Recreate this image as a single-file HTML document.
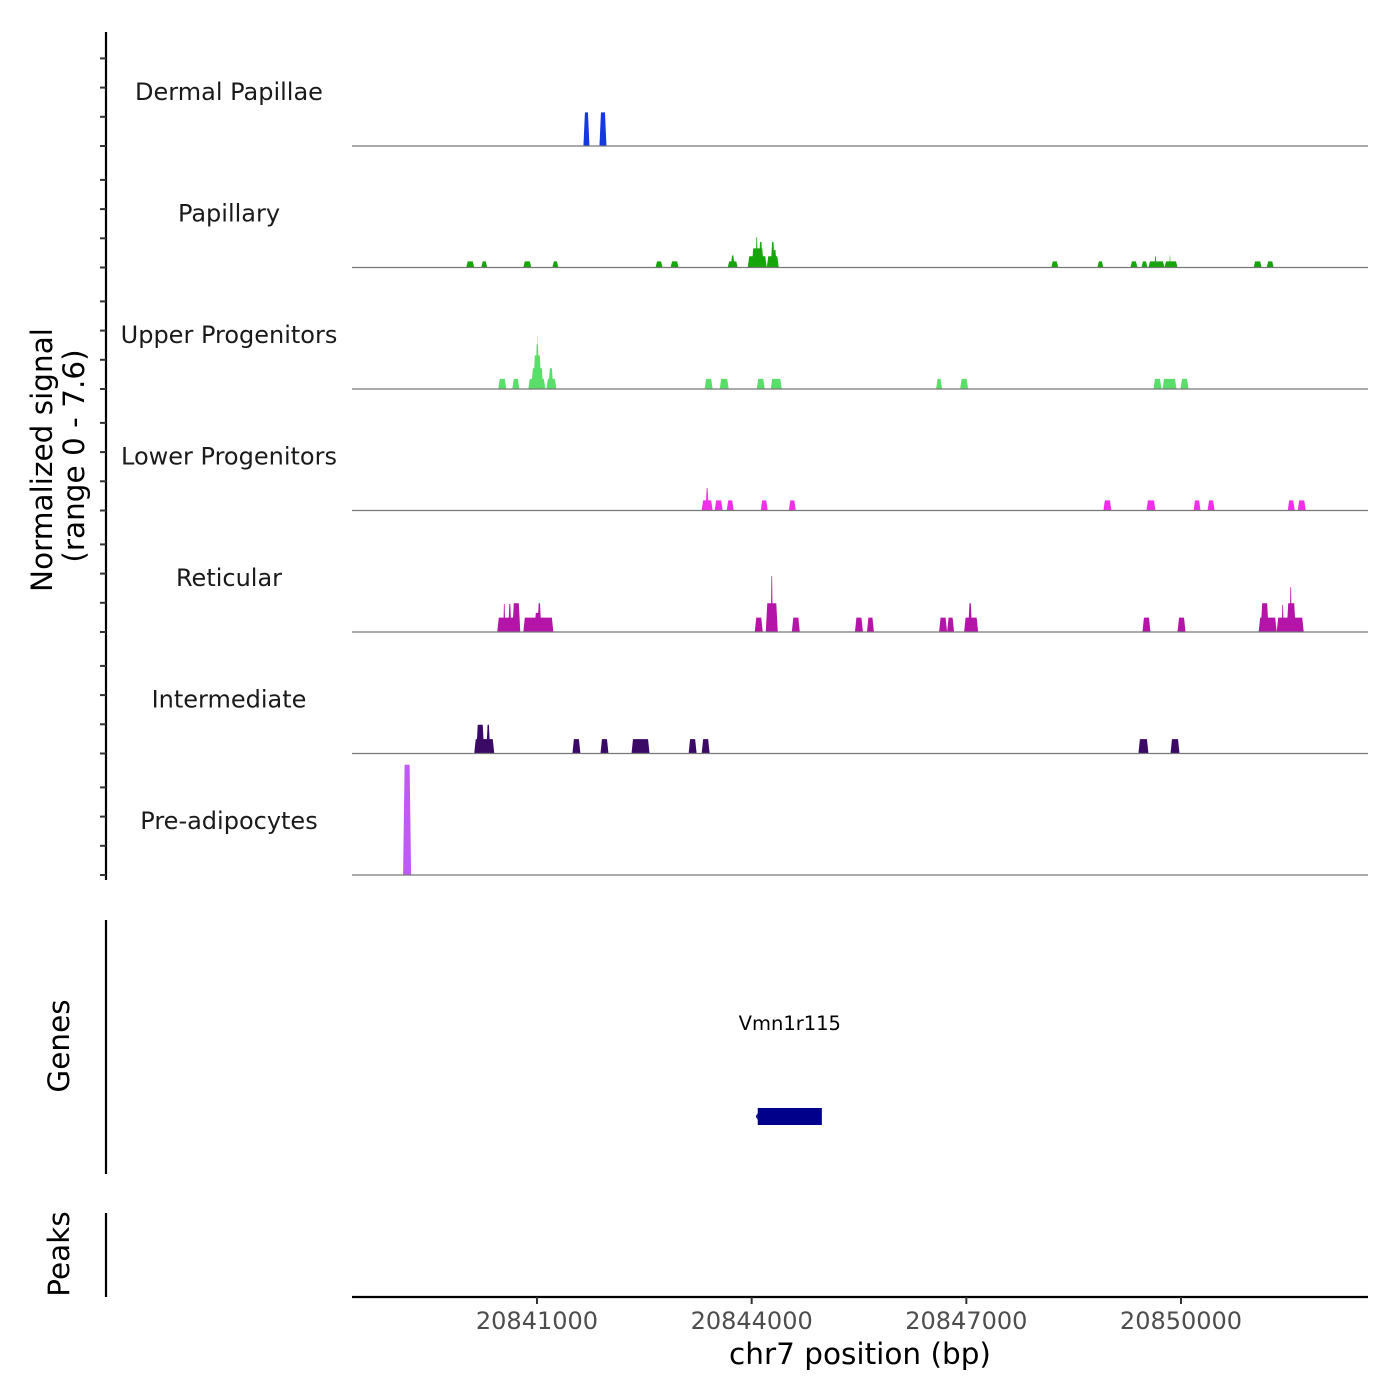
<!DOCTYPE html>
<html><head><meta charset="utf-8"><style>
html,body{margin:0;padding:0;background:#fff;}
svg{display:block;font-family:"DejaVu Sans","Liberation Sans",sans-serif;}
</style></head><body>
<svg id="chart" width="1400" height="1400" viewBox="0 0 1400 1400" xmlns="http://www.w3.org/2000/svg">
<g id="tracks"></g>
<line x1="106" y1="32" x2="106" y2="880" stroke="#000" stroke-width="2.2"/>
<g id="yticks"></g>
<text transform="translate(52,460) rotate(-90)" text-anchor="middle" font-size="29.5" fill="#000">Normalized signal</text>
<text transform="translate(84,456) rotate(-90)" text-anchor="middle" font-size="29.5" fill="#000">(range 0 - 7.6)</text>
<line x1="106" y1="920" x2="106" y2="1174" stroke="#000" stroke-width="2.2"/>
<text transform="translate(69,1046) rotate(-90)" text-anchor="middle" font-size="29.5">Genes</text>
<line x1="106" y1="1213" x2="106" y2="1297" stroke="#000" stroke-width="2.2"/>
<text transform="translate(69,1254) rotate(-90)" text-anchor="middle" font-size="29.5">Peaks</text>
<g id="genes"></g>
<line x1="352" y1="1297" x2="1368" y2="1297" stroke="#000" stroke-width="2.2"/>
<g id="xticks"></g>
<text x="860" y="1364" text-anchor="middle" font-size="29.5">chr7 position (bp)</text>
</svg>
<script>
const trackNames = ["Dermal Papillae","Papillary","Upper Progenitors","Lower Progenitors","Reticular","Intermediate","Pre-adipocytes"];
const trackColors = ["#1638e0","#17a50c","#5ade6a","#f12ee9","#b514a8","#3b0a66","#c05af5"];
const xTicks = [20841000,20844000,20847000,20850000];
const geneNames = ["Vmn1r115"];
const geneStarts = [20844085];
const geneEnds = [20844981];
// segments per track: [start bp, end bp, signal]
const dermalPapillae = [[20841649,20841733,2.1],[20841873,20841971,2.1]];
const papillary = [[20840011,20840123,0.38],[20840221,20840305,0.38],[20840809,20840921,0.38],[20841215,20841299,0.38],[20842657,20842755,0.38],[20842867,20842979,0.38],[20843665,20843805,0.38],[20843707,20843763,0.75],[20843945,20844211,0.7],[20844001,20844169,1.2],[20844057,20844085,1.9],[20844099,20844155,1.6],[20844211,20844379,0.7],[20844267,20844323,1.6],[20844295,20844351,1.1],[20848187,20848285,0.38],[20848831,20848915,0.38],[20849293,20849391,0.38],[20849447,20849531,0.38],[20849545,20849769,0.38],[20849629,20849657,0.7],[20849769,20849951,0.38],[20849839,20849853,0.75],[20851015,20851127,0.38],[20851197,20851295,0.38]];
const upperProgenitors = [[20840459,20840571,0.63],[20840655,20840753,0.63],[20840879,20841117,0.63],[20840921,20841089,1.3],[20840949,20841061,2.1],[20840977,20841033,2.8],[20840998,20841012,3.3],[20841131,20841271,0.63],[20841159,20841229,1.3],[20843343,20843455,0.63],[20843553,20843679,0.63],[20844071,20844183,0.63],[20844267,20844421,0.63],[20846577,20846661,0.63],[20846913,20847025,0.63],[20849615,20849727,0.63],[20849741,20849937,0.63],[20849993,20850105,0.63]];
const lowerProgenitors = [[20843301,20843455,0.63],[20843357,20843399,1.4],[20843483,20843595,0.63],[20843651,20843749,0.63],[20844127,20844225,0.63],[20844519,20844617,0.63],[20848915,20849027,0.63],[20849517,20849643,0.63],[20850175,20850273,0.63],[20850371,20850469,0.63],[20851491,20851589,0.63],[20851631,20851743,0.63]];
const reticular = [[20840445,20840739,0.9],[20840529,20840557,1.75],[20840599,20840641,1.75],[20840655,20840767,1.8],[20840809,20841229,0.9],[20840963,20841061,1.2],[20841005,20841061,1.8],[20844043,20844155,0.9],[20844197,20844365,1.8],[20844267,20844295,3.5],[20844561,20844673,0.9],[20845443,20845555,0.9],[20845611,20845709,0.9],[20846619,20846731,0.9],[20846731,20846829,0.9],[20846969,20847165,0.9],[20847025,20847081,1.8],[20849461,20849573,0.9],[20849951,20850063,0.9],[20851085,20851337,0.9],[20851113,20851225,1.8],[20851337,20851715,0.9],[20851407,20851435,1.7],[20851477,20851603,1.8],[20851519,20851547,2.8]];
const intermediate = [[20840123,20840403,0.9],[20840151,20840263,1.8],[20840291,20840347,1.8],[20841495,20841607,0.9],[20841887,20841999,0.9],[20842321,20842573,0.9],[20843119,20843231,0.9],[20843301,20843413,0.9],[20849405,20849545,0.9],[20849853,20849979,0.9]];
const preAdipocytes = [[20839129,20839241,6.9]];
const trackData = [dermalPapillae,papillary,upperProgenitors,lowerProgenitors,reticular,intermediate,preAdipocytes];

const NS="http://www.w3.org/2000/svg";
const X0=352,X1=1368,BP0=20838415,BP1=20852613;
function xs(bp){return X0+(bp-BP0)/(BP1-BP0)*(X1-X0);}
const trackH=121.5, firstBase=146, yMax=7.6;
function ys(i,v){return firstBase+i*trackH - v/yMax*trackH;}
function mk(tag,attrs,parent){const e=document.createElementNS(NS,tag);for(const k in attrs)e.setAttribute(k,attrs[k]);parent.appendChild(e);return e;}

const tg=document.getElementById('tracks');
trackNames.forEach((name,i)=>{
  const g=mk('g',{},tg);
  
  
  const base=ys(i,0);
  trackData[i].forEach(s=>{
    const a=xs(s[0]),b=xs(s[1]),t=ys(i,s[2]);
    const sl=Math.min(1.5,(b-a)/3);
    const p=mk('polygon',{points:`${a},${base} ${a+sl},${t} ${b-sl},${t} ${b},${base}`,fill:trackColors[i]},g);
    
    
  });
  const bl=mk('line',{x1:X0,x2:X1,y1:base,y2:base,stroke:'#777','stroke-width':1.2},g);
  
  
  const lab=mk('text',{x:229,y:base-46,'text-anchor':'middle','font-size':24,fill:'#1a1a1a'},g);
  lab.textContent=name;
  
  
  const yt=document.getElementById('yticks');
  for(let k=0;k<4;k++){
    const yy=base-k*29.2;
    const tk=mk('line',{x1:100,x2:106,y1:yy,y2:yy,stroke:'#333','stroke-width':2},yt);
    
    
  }
});
const xg=document.getElementById('xticks');
xTicks.forEach(v=>{
  const x=xs(v);
  const l=mk('line',{x1:x,x2:x,y1:1297,y2:1304,stroke:'#333','stroke-width':2},xg);
  
  
  const t=mk('text',{x:x,y:1329,'text-anchor':'middle','font-size':24,fill:'#4d4d4d'},xg);
  t.textContent=v;
  
  
});
const gg=document.getElementById('genes');
geneNames.forEach((n,i)=>{
  const a=xs(geneStarts[i]),b=xs(geneEnds[i]);
  const r=mk('rect',{x:a,y:1108,width:b-a,height:17,fill:'#00008b'},gg);
  
  
  const ar=mk('polygon',{points:`${a-2},1116.5 ${a},1113 ${a},1120`,fill:'#00008b'},gg);
  
  
  const t=mk('text',{x:(a+b)/2,y:1030,'text-anchor':'middle','font-size':19.5,fill:'#000'},gg);
  t.textContent=n;
  
  
});
</script>
</body></html>
